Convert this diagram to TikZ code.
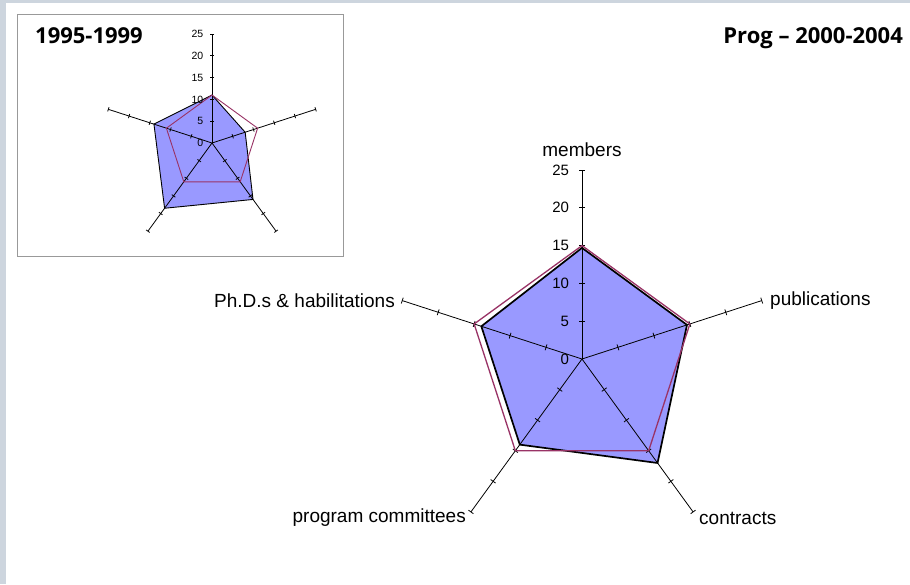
\documentclass[tikz,border=0pt]{standalone}
\usepackage{fontspec}
\setmainfont{Liberation Sans}
\newfontfamily\titlefont{Open Sans}
\definecolor{seriesfill}{HTML}{9999FF}
\definecolor{refline}{HTML}{993366}
\definecolor{slideedge}{HTML}{CDD5DE}
\definecolor{framegrey}{HTML}{999999}
\begin{document}
\begin{tikzpicture}[x=1pt,y=1pt]
    \tikzstyle{every node}+=[inner sep=0pt]
    \tikzstyle{axisline}=[black,line width=0.8pt]
    \tikzstyle{axislabel}=[font=\fontsize{19}{22}\selectfont]
    \tikzstyle{bignum}=[anchor=east,font=\fontsize{15}{17}\selectfont]
    \tikzstyle{smallnum}=[anchor=east,font=\fontsize{10.5}{12}\selectfont]
    \tikzstyle{title}=[font=\titlefont\bfseries\fontsize{22}{26}\selectfont]
    \useasboundingbox (0,0) rectangle (910,-584);
    \fill [white] (0,0) rectangle (910,-584);
    \fill [slideedge] (0,0) rectangle (6,-584);
    \fill [slideedge] (0,0) rectangle (910,-3);
    % small chart 1995-1999
    \draw [framegrey,line width=1pt] (17,-14) rectangle (343,-256);
    \node [title,anchor=base west] (oldtitle) at (35,-43) {1995-1999};
    \begin{scope}[shift={(212,-143)},x=4.36pt,y=4.36pt]
    \fill [seriesfill] (90:11) -- (18:8) -- (-54:16) -- (-126:18.5) -- (162:14) -- cycle;
    \foreach \a in {90,18,-54,-126,162} {
        \draw [axisline] (0,0) -- (\a:25);
        \foreach \r in {5,10,...,25}
            \draw [axisline,rotate=\a] (\r,-0.5) -- (\r,0.5);
    }
    \draw [black,line width=0.9pt] (90:11) -- (18:8) -- (-54:16) -- (-126:18.5) -- (162:14) -- cycle;
    \draw [refline,line width=0.9pt] (90:11) -- (18:11) -- (-54:11) -- (-126:11) -- (162:11) -- cycle;
    \foreach \r in {0,5,...,25}
        \node [smallnum] (s\r) at (-1.95,\r) {\r};
    \end{scope}
    % main chart 2000-2004
    \node [title,anchor=base east] (newtitle) at (903,-43) {Prog \textendash{} 2000-2004};
    \begin{scope}[shift={(582,-359)},x=7.56pt,y=7.56pt]
    \fill [seriesfill] (90:14.7) -- (18:14.6) -- (-54:17) -- (-126:14) -- (162:14) -- cycle;
    \foreach \a in {90,18,-54,-126,162} {
        \draw [axisline] (0,0) -- (\a:25);
        \foreach \r in {5,10,...,25}
            \draw [axisline,rotate=\a] (\r,-0.4) -- (\r,0.4);
    }
    \draw [black,line width=1.7pt,line join=miter] (90:14.7) -- (18:14.6) -- (-54:17) -- (-126:14) -- (162:14) -- cycle;
    \draw [refline,line width=1.3pt] (90:15) -- (18:15) -- (-54:15) -- (-126:15) -- (162:15) -- cycle;
    \foreach \r in {0,5,...,25}
        \node [bignum] (m\r) at (-1.7,\r) {\r};
    \end{scope}
    \node [axislabel] (members) at (582,-150) {members};
    \node [axislabel,anchor=west] (pubs) at (770,-301) {publications};
    \node [axislabel,anchor=west] (contracts) at (699,-518) {contracts};
    \node [axislabel,anchor=east] (committees) at (466,-518) {program committees};
    \node [axislabel,anchor=east] (phds) at (395,-301) {Ph.D.s \& habilitations};
\end{tikzpicture}
\end{document}
